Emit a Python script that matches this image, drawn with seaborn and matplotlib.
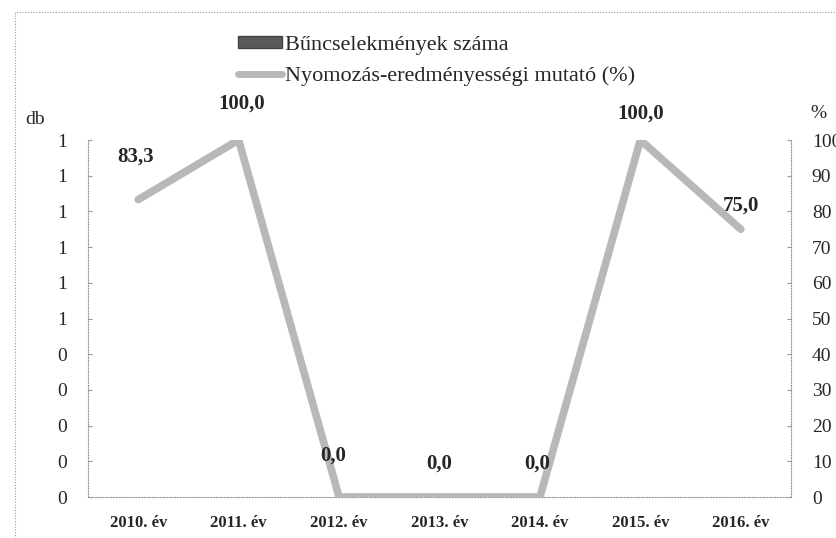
import numpy as np
import pandas as pd
import matplotlib
matplotlib.use("Agg")
import matplotlib.pyplot as plt
from matplotlib.patches import Patch, Rectangle
from matplotlib.lines import Line2D
import seaborn as sns

# data
years = ["2010. év", "2011. év", "2012. év", "2013. év", "2014. év", "2015. év", "2016. év"]
crime_counts = [0, 0, 0, 0, 0, 0, 0]
clearance_pct = [83.3, 100.0, 0.0, 0.0, 0.0, 100.0, 75.0]

left_ticks = [0.0, 0.1, 0.2, 0.3, 0.4, 0.5, 0.6, 0.7, 0.8, 0.9, 1.0]
right_ticks = [0, 10, 20, 30, 40, 50, 60, 70, 80, 90, 100]

# label nudges (points), placed by hand in the original
label_dx = [-2, 2, -4, 0, -2, 0, 0]
label_dy = [31, 26, 30, 24, 24, 19, 17]

sns.set_style("white")
plt.rcParams["font.family"] = ["Liberation Serif", "DejaVu Serif"]

df = pd.DataFrame({"ev": years, "db": crime_counts, "pct": clearance_pct})

fig = plt.figure(figsize=(8.36, 5.38), dpi=100)
ax = fig.add_axes([88 / 836, 41 / 538, 703 / 836, 357 / 538])

sns.barplot(data=df, x="ev", y="db", ax=ax, color="#5a5a5a", width=0.5)
ax.set_ylim(0, 1)
ax.set_yticks(left_ticks)
ax.set_yticklabels([str(int(t + 0.5 + 1e-9)) for t in left_ticks], fontsize=14)
ax.set_xlabel("")
ax.set_ylabel("")
ax.tick_params(axis="x", length=0, pad=13, labelsize=12)
for lbl in ax.get_xticklabels():
    lbl.set_fontweight("bold")
ax.tick_params(axis="y", direction="in", length=3, color="#999999", pad=15)

ax2 = ax.twinx()
sns.pointplot(data=df, x="ev", y="pct", ax=ax2, color="#b8b8b8",
              markers="", linestyles="-", linewidth=5.5)
ax2.set_ylim(0, 100)
ax2.set_xlim(-0.5, len(years) - 0.5)
ax.set_xlim(-0.5, len(years) - 0.5)
ax2.set_yticks(right_ticks)
ax2.set_yticklabels([str(t) for t in right_ticks], fontsize=14)
ax2.set_ylabel("")
ax2.set_xlabel("")
ax2.tick_params(axis="y", direction="in", length=3, color="#999999", pad=15)

for i, v in enumerate(clearance_pct):
    ax2.annotate(f"{v:.1f}".replace(".", ","), xy=(i, v),
                 xytext=(label_dx[i], label_dy[i]), textcoords="offset points",
                 ha="center", va="center", fontsize=15, fontweight="bold")

for a in (ax, ax2):
    a.spines["top"].set_visible(False)
    for side in ("left", "right", "bottom"):
        a.spines[side].set_linestyle((0, (1, 1.5)))
        a.spines[side].set_color("#999999")
        a.spines[side].set_linewidth(0.8)
ax.spines["right"].set_visible(False)
ax2.spines["left"].set_visible(False)
ax2.spines["bottom"].set_visible(False)

fig.text(35 / 836, 1 - 120 / 538, "db", fontsize=14, ha="center", va="center")
fig.text(818 / 836, 1 - 113 / 538, "%", fontsize=14, ha="center", va="center")

handles = [Patch(facecolor="#5a5a5a", edgecolor="#444444"),
           Line2D([0], [0], color="#b8b8b8", lw=5)]
fig.legend(handles, ["Bűncselekmények száma", "Nyomozás-eredményességi mutató (%)"],
           loc="upper left", bbox_to_anchor=(238 / 836, 1 - 36 / 538),
           frameon=False, fontsize=16, handlelength=2.0, handletextpad=0.1,
           labelspacing=0.5, borderpad=0, borderaxespad=0, handleheight=0.45)

fig.patches.append(Rectangle((15 / 836, -0.05), 1.0, 1 - 12 / 538 + 0.05,
                             transform=fig.transFigure, fill=False,
                             linestyle=(0, (1, 1.5)), edgecolor="#999999", lw=0.8))

fig.savefig("out.png", dpi=100)
